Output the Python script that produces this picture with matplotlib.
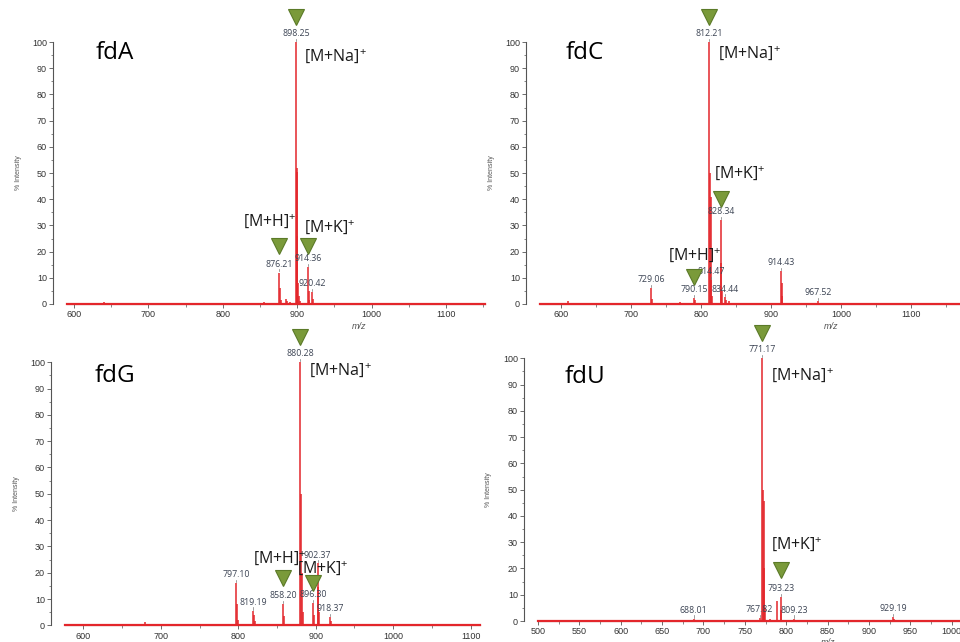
import matplotlib.pyplot as plt
from matplotlib.ticker import MultipleLocator

# ---------------- data (m/z, % intensity) ----------------
# fdA
mz_A  = [640.0, 855.0, 872.0, 876.21, 877.2, 878.2, 884.5, 887.0, 890.0,
         898.25, 899.25, 900.0, 900.26, 901.25, 902.3, 903.2,
         914.36, 915.36, 916.4, 920.42, 921.4, 936.0]
int_A = [0.6, 0.8, 0.5, 12.0, 6.0, 1.5, 2.0, 1.0, 0.8,
         100.0, 50.5, 52.0, 26.0, 8.0, 3.0, 1.0,
         14.0, 5.0, 1.5, 4.5, 2.0, 0.4]
lab_A = [876.21, 898.25, 914.36, 920.42]
ion_A = [876.21, 898.25, 914.36]          # [M+H]+, [M+Na]+, [M+K]+

# fdC
mz_C  = [611.0, 660.0, 729.06, 730.1, 770.0, 790.15, 791.2, 800.0,
         812.21, 813.21, 813.8, 814.47, 815.5, 828.34, 829.35, 830.3,
         834.44, 835.4, 840.0, 850.0, 914.43, 915.45, 916.4, 940.0,
         967.52, 1060.0]
int_C = [1.0, 0.4, 6.0, 2.0, 0.8, 2.3, 1.5, 0.5,
         100.0, 50.0, 41.0, 9.0, 3.0, 32.0, 15.5, 5.0,
         2.5, 1.5, 1.0, 0.5, 12.5, 8.0, 3.0, 0.3,
         1.0, 0.3]
lab_C = [729.06, 790.15, 812.21, 814.47, 828.34, 834.44, 914.43, 967.52]
ion_C = [790.15, 812.21, 828.34]

# fdG
mz_G  = [680.0, 777.0, 797.10, 798.1, 799.1, 819.19, 820.2, 821.2,
         858.20, 859.2, 880.28, 881.28, 882.3, 883.3, 896.30, 897.3,
         902.37, 903.37, 904.4, 918.37, 919.4, 985.0]
int_G = [1.3, 0.3, 16.0, 8.0, 2.0, 5.5, 4.0, 1.5,
         8.0, 3.5, 100.0, 50.0, 20.0, 5.0, 8.5, 4.0,
         23.5, 14.5, 5.0, 3.0, 1.5, 0.5]
lab_G = [797.10, 819.19, 858.20, 880.28, 896.30, 902.37, 918.37]
ion_G = [858.20, 880.28, 896.30]

# fdU
mz_U  = [510.0, 520.0, 688.01, 767.82, 771.17, 772.17, 772.6, 773.2,
         774.2, 780.0, 789.0, 793.23, 794.2, 809.23, 929.19, 930.2]
int_U = [0.4, 0.3, 0.8, 1.0, 100.0, 50.0, 45.5, 20.0,
         5.0, 0.8, 7.6, 9.0, 4.0, 0.8, 1.5, 0.8]
lab_U = [688.01, 767.82, 771.17, 793.23, 809.23, 929.19]
ion_U = [None, 771.17, 793.23]

ion_names = [r"[M+H]$^{+}$", r"[M+Na]$^{+}$", r"[M+K]$^{+}$"]

# ---------------- style ----------------
plt.rcParams.update({
    "font.family": ["Liberation Sans Narrow", "Liberation Sans", "DejaVu Sans"],
    "mathtext.default": "regular",
    "axes.spines.top": False,
    "axes.spines.right": False,
})

RED = "#E3262B"
GREEN = "#7A9A3A"
GREEN_EDGE = "#5B7A28"
GREY = "#555555"
LABEL_C = "#3C4454"
BIG_FONT = ["Open Sans", "DejaVu Sans"]


def spectrum(ax, mz, inten, labelled, xlim, major, minor):
    ax.vlines(mz, 0, inten, color=RED, lw=1.1, zorder=2)
    ax.axhline(0, color=RED, lw=1.6, zorder=3, clip_on=False)
    for m in labelled:
        h = inten[mz.index(m)]
        ax.plot([m, m], [h + 0.5, h + 1.3], color="#777777", lw=0.5,
                clip_on=False, zorder=4)
        ax.text(m, h + 1.5, f"{m:.2f}", ha="center", va="bottom",
                fontsize=6.3, color=LABEL_C, family=BIG_FONT,
                clip_on=False, zorder=4)

    ax.set_xlim(*xlim)
    ax.set_ylim(0, 100)
    ax.xaxis.set_major_locator(MultipleLocator(major))
    ax.xaxis.set_minor_locator(MultipleLocator(minor))
    ax.yaxis.set_major_locator(MultipleLocator(10))
    ax.yaxis.set_minor_locator(MultipleLocator(5))
    ax.spines["left"].set_position(("outward", 10))
    for s in ("left", "bottom"):
        ax.spines[s].set_color(GREY)
        ax.spines[s].set_linewidth(0.8)
    ax.tick_params(which="major", length=3, width=0.6, color=GREY,
                   labelsize=6.5, labelcolor="#333333", pad=1.5)
    ax.tick_params(which="minor", length=1.8, width=0.5, color=GREY)
    ax.set_ylabel("% Intensity", fontsize=5, color=GREY)
    ax.yaxis.set_label_coords(-0.108, 0.5)
    ax.set_xlabel("m/z", fontsize=6.5, style="italic", color=GREY)


def ions(ax, ion_mz, tri_y, text_xy):
    for m, ty, name, txy in zip(ion_mz, tri_y, ion_names, text_xy):
        if m is None:
            continue
        ax.plot(m, ty, marker="v", ms=11, mfc=GREEN, mec=GREEN_EDGE,
                mew=0.8, clip_on=False, zorder=6)
        ax.text(txy[0], txy[1], name, ha="left", va="center",
                fontsize=11.5, color="#1A1A1A", family=BIG_FONT,
                clip_on=False, zorder=6)


fig = plt.figure(figsize=(9.6, 6.42), dpi=100)
fig.patch.set_facecolor("white")

# ---- fdA ----
ax = fig.add_axes([0.0698, 0.5265, 0.435, 0.408])
spectrum(ax, mz_A, int_A, lab_A, (590.6, 1152), 100, 50)
ions(ax, ion_A, [22, 109.5, 22], [(827, 31.8), (909, 94.7), (909, 29.5)])
ax.text(0.069, 0.958, "fdA", transform=ax.transAxes, fontsize=17.5,
        family=BIG_FONT, va="center", ha="left")
ax.xaxis.set_label_coords(0.70, -0.068)

# ---- fdC ----
ax = fig.add_axes([0.5625, 0.5265, 0.4375, 0.408])
spectrum(ax, mz_C, int_C, lab_C, (570.5, 1169.6), 100, 50)
ions(ax, ion_C, [10.4, 109.4, 40], [(752.6, 18.7), (824.5, 95.8), (819, 50.1)])
ax.text(0.062, 0.958, "fdC", transform=ax.transAxes, fontsize=17.5,
        family=BIG_FONT, va="center", ha="left")
ax.xaxis.set_label_coords(0.694, -0.068)

# ---- fdG ----
ax = fig.add_axes([0.0677, 0.026, 0.4323, 0.4097])
spectrum(ax, mz_G, int_G, lab_G, (576.4, 1112), 100, 50)
ions(ax, ion_G, [17.9, 109.5, 16.2], [(819.4, 25.8), (891, 97), (876, 22)])
ax.text(0.0706, 0.948, "fdG", transform=ax.transAxes, fontsize=17.5,
        family=BIG_FONT, va="center", ha="left")
ax.xaxis.set_label_coords(0.70, -0.068)

# ---- fdU ----
ax = fig.add_axes([0.5604, 0.0327, 0.4396, 0.4092])
spectrum(ax, mz_U, int_U, lab_U, (500, 1010), 50, 25)
ions(ax, ion_U, [None, 109.5, 19.4], [None, (781.5, 93.6), (781.5, 29.3)])
ax.text(0.064, 0.93, "fdU", transform=ax.transAxes, fontsize=17.5,
        family=BIG_FONT, va="center", ha="left")
ax.xaxis.set_label_coords(0.687, -0.065)

fig.savefig("out.png", dpi=100, facecolor="white")
